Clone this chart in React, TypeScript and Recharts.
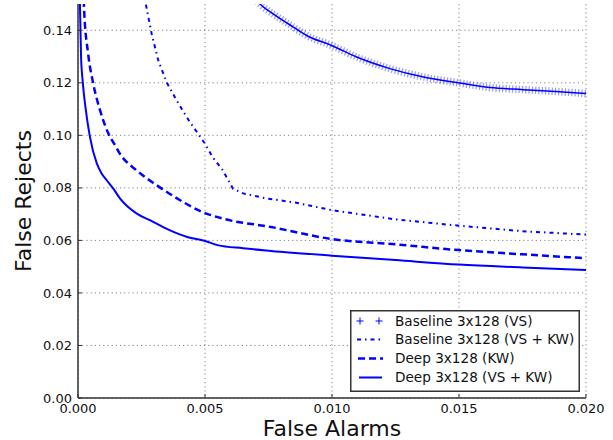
import React from 'react';
import { LineChart, Line, XAxis, YAxis, CartesianGrid, Legend } from 'recharts';

const FONT = '"DejaVu Sans", "Liberation Sans", sans-serif';
const BLUE = '#0000ff';
const FRAME = '#333';

const xTicks = [0, 0.005, 0.01, 0.015, 0.02];
const yTicks = [0, 0.02, 0.04, 0.06, 0.08, 0.1, 0.12, 0.14];

const seriesNames = [
  'Baseline 3x128 (VS)',
  'Baseline 3x128 (VS + KW)',
  'Deep 3x128 (KW)',
  'Deep 3x128 (VS + KW)',
];

// [false alarms, false rejects]
const baselineVs: [number, number][] = [
  [0.0069, 0.153], [0.00717, 0.15], [0.0078, 0.1455], [0.00848, 0.1412], [0.009, 0.138],
  [0.00999, 0.1342], [0.01097, 0.1298], [0.01228, 0.1254], [0.0136, 0.1222], [0.01497, 0.12],
  [0.01622, 0.1182], [0.01753, 0.1174], [0.0188, 0.1167], [0.02, 0.1159],
];

const baselineVsKw: [number, number][] = [
  [0.0026, 0.16], [0.00268, 0.1494], [0.0029, 0.1387], [0.00316, 0.1285], [0.0035, 0.12],
  [0.0039, 0.113], [0.00434, 0.106], [0.005, 0.0968], [0.0053, 0.0917], [0.0057, 0.0867],
  [0.0061, 0.0797], [0.0065, 0.0779], [0.0074, 0.076], [0.0085, 0.0745], [0.01, 0.0715],
  [0.0125, 0.068], [0.015, 0.0656], [0.0175, 0.0635], [0.02, 0.0622],
];

const deepKw: [number, number][] = [
  [0.0002, 0.16], [0.00024, 0.148], [0.0004, 0.131], [0.0006, 0.1197], [0.00087, 0.1095],
  [0.0012, 0.1006], [0.00146, 0.0962], [0.00165, 0.093], [0.0023, 0.0867], [0.0031, 0.081],
  [0.0039, 0.076], [0.0049, 0.0708], [0.0057, 0.0683], [0.0076, 0.0651], [0.01, 0.0605],
  [0.0125, 0.0585], [0.015, 0.0563], [0.0175, 0.0547], [0.02, 0.0532],
];

const deepVsKw: [number, number][] = [
  [0.00006, 0.16], [0.00008, 0.148], [0.00012, 0.13], [0.00019, 0.12], [0.00031, 0.1095],
  [0.00047, 0.0994], [0.00074, 0.0893], [0.00093, 0.0855], [0.00113, 0.0829], [0.00139, 0.0797],
  [0.00165, 0.076], [0.0023, 0.0703], [0.00283, 0.0677], [0.0036, 0.0639], [0.0043, 0.0613],
  [0.005, 0.0598], [0.0055, 0.0582], [0.0065, 0.057], [0.0076, 0.056], [0.01, 0.0542],
  [0.0125, 0.0525], [0.015, 0.0508], [0.0175, 0.0497], [0.02, 0.0487],
];

const toRows = (pts: [number, number][]) => pts.map(([x, y]) => ({ x, y }));

const DASHDOT = '4 4 1.5 4';
const DASHED = '7 4';

const tickStyle = { fontFamily: FONT, fontSize: 13, fill: '#111' };

const LegendBox = () => {
  const rowY = [11, 29.5, 48.5, 67.5];
  return (
    <svg width={230} height={82} style={{ display: 'block' }}>
      <rect x={0.75} y={0.75} width={228.5} height={80.5} fill="#fff" stroke={FRAME} strokeWidth={1.5} />
      {[10, 29].map((cx) => (
        <g key={cx} stroke={BLUE} strokeWidth={1}>
          <line x1={cx - 3.5} x2={cx + 3.5} y1={rowY[0]} y2={rowY[0]} />
          <line x1={cx} x2={cx} y1={rowY[0] - 3.5} y2={rowY[0] + 3.5} />
        </g>
      ))}
      <line x1={7} x2={33} y1={rowY[1]} y2={rowY[1]} stroke={BLUE} strokeWidth={2} strokeDasharray={DASHDOT} />
      <line x1={8} x2={33} y1={rowY[2]} y2={rowY[2]} stroke={BLUE} strokeWidth={2.5} strokeDasharray={DASHED} />
      <line x1={9} x2={32} y1={rowY[3]} y2={rowY[3]} stroke={BLUE} strokeWidth={2} />
      {seriesNames.map((n, i) => (
        <text key={n} x={45} y={rowY[i] + 4.8} fontFamily={FONT} fontSize={13.6} fill="#111">
          {n}
        </text>
      ))}
    </svg>
  );
};

const YLabel = (props: any) => {
  const vb = props.viewBox || { x: 0, y: 4, width: 78, height: 394 };
  const cx = vb.x + 31;
  const cy = vb.y + vb.height / 2;
  return (
    <text x={cx} y={cy} transform={`rotate(-90, ${cx}, ${cy})`} textAnchor="middle"
      fontFamily={FONT} fontSize={22} fill="#111">
      False Rejects
    </text>
  );
};

const XLabel = (props: any) => {
  const vb = props.viewBox || { x: 78, y: 398, width: 508, height: 42 };
  return (
    <text x={vb.x + vb.width / 2} y={436} textAnchor="middle" fontFamily={FONT} fontSize={22} fill="#111">
      False Alarms
    </text>
  );
};

export default function App() {
  return (
    <div style={{ position: 'absolute', left: 0, top: 0, width: 613, height: 440, background: '#fff' }}>
      <LineChart width={613} height={440} margin={{ top: 4, right: 27, bottom: 0, left: 0 }}>
        <CartesianGrid stroke="#666" strokeWidth={0.8} strokeDasharray="1.2 3" horizontalValues={yTicks} verticalValues={xTicks} />
        <Line data={toRows(baselineVs)} dataKey="y" name={seriesNames[0]} type="monotone"
          stroke={BLUE} strokeOpacity={0.4} strokeWidth={7.5} strokeDasharray="1.2 2.1"
          dot={false} activeDot={false} isAnimationActive={false} legendType="none" />
        <Line data={toRows(baselineVs)} dataKey="y" name={seriesNames[0] + ' '} type="monotone"
          stroke={BLUE} strokeWidth={1.5} dot={false} activeDot={false} isAnimationActive={false} legendType="none" />
        <Line data={toRows(baselineVsKw)} dataKey="y" name={seriesNames[1]} type="linear"
          stroke={BLUE} strokeWidth={2} strokeDasharray={DASHDOT}
          dot={false} activeDot={false} isAnimationActive={false} />
        <Line data={toRows(deepKw)} dataKey="y" name={seriesNames[2]} type="monotone"
          stroke={BLUE} strokeWidth={2.5} strokeDasharray={DASHED}
          dot={false} activeDot={false} isAnimationActive={false} />
        <Line data={toRows(deepVsKw)} dataKey="y" name={seriesNames[3]} type="monotone"
          stroke={BLUE} strokeWidth={2}
          dot={false} activeDot={false} isAnimationActive={false} />
        <XAxis
          type="number" dataKey="x" domain={[0, 0.02]} ticks={xTicks} allowDataOverflow
          height={42} tickSize={-4} tickMargin={10}
          tickFormatter={(v: number) => v.toFixed(3)} tick={tickStyle}
          axisLine={{ stroke: FRAME, strokeWidth: 1.5 }} tickLine={{ stroke: FRAME }}
          label={XLabel}
        />
        <XAxis
          xAxisId="top" orientation="top" type="number" dataKey="x" domain={[0, 0.02]} ticks={xTicks}
          allowDataOverflow height={0} tickSize={-4} tickFormatter={() => ''}
          axisLine={{ stroke: FRAME, strokeWidth: 1.5 }} tickLine={{ stroke: FRAME }}
        />
        <YAxis
          type="number" domain={[0, 0.15]} ticks={yTicks} allowDataOverflow
          width={78} tickSize={-4} tickMargin={10}
          tickFormatter={(v: number) => v.toFixed(2)} tick={tickStyle}
          axisLine={{ stroke: FRAME, strokeWidth: 1.5 }} tickLine={{ stroke: FRAME }}
          label={YLabel}
        />
        <YAxis
          yAxisId="right" orientation="right" type="number" domain={[0, 0.15]} ticks={yTicks}
          allowDataOverflow width={0} tickSize={-4} tickFormatter={() => ''}
          axisLine={{ stroke: FRAME, strokeWidth: 1.5 }} tickLine={{ stroke: FRAME }}
        />
        <Legend
          layout="vertical" align="center" verticalAlign="middle"
          wrapperStyle={{ left: 350, top: 310, width: 230, height: 82 }}
          content={() => <LegendBox />}
        />
      </LineChart>
    </div>
  );
}
